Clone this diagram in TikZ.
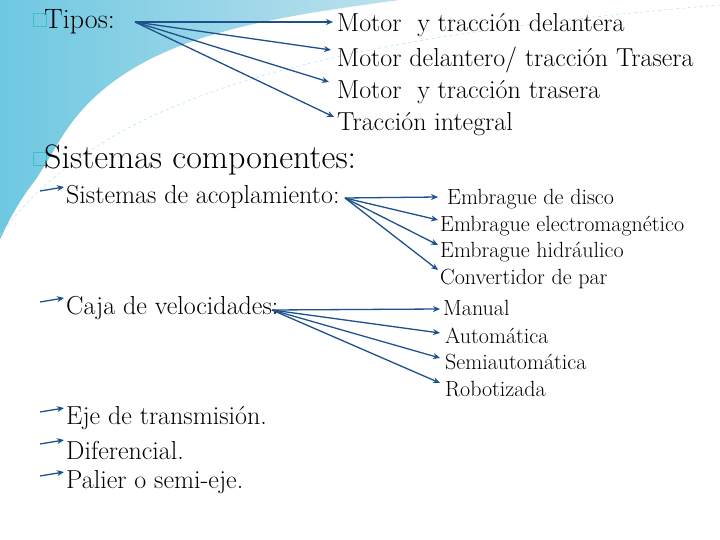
\documentclass[tikz,border=0pt]{standalone}
\usetikzlibrary{arrows.meta}
\begin{document}
\begin{tikzpicture}[x=1pt,y=-1pt,
  arr/.style={draw={rgb,255:red,30;green,80;blue,140}, line width=1.3pt, -{Stealth[length=7pt,width=6pt]}},
  lbl/.style={anchor=west, inner sep=0pt, font=\fontsize{26}{28}\selectfont},
  sml/.style={anchor=west, inner sep=0pt, font=\fontsize{22}{24}\selectfont},
  bul/.style={draw={rgb,255:red,60;green,190;blue,210}, line width=0.8pt, minimum size=13pt, inner sep=0pt}]
\useasboundingbox (0,0) rectangle (720,540);
\fill[white] (0,0) rectangle (720,540);
\shade[left color={rgb,255:red,110;green,200;blue,225}, right color={rgb,255:red,190;green,225;blue,238}]
  (0,0) -- (400,0) .. controls (250,20) and (120,40) .. (60,140) .. controls (30,190) and (10,220) .. (0,240) -- cycle;
\fill[white] (0,240) .. controls (40,150) and (120,70) .. (400,0) -- (440,0) .. controls (200,40) and (80,110) .. (0,250) -- cycle;
\draw[cyan!40, dashed] (0,235) .. controls (100,100) and (300,40) .. (720,5);
\node[bul] (b1) at (40,20) {};
\node[lbl, font=\fontsize{28}{30}\selectfont] (tipos) at (44,22) {Tipos:};
\node[lbl] (t1) at (337,25) {Motor \ y tracción delantera};
\node[lbl] (t2) at (337,60) {Motor delantero/ tracción Trasera};
\node[lbl] (t3) at (337,92) {Motor \ y tracción trasera};
\node[lbl] (t4) at (337,124) {Tracción integral};
\coordinate (ts) at (135,22);
\draw[arr] (ts) -- (333,22);
\draw[arr] (ts) -- (331,50);
\draw[arr] (ts) -- (329,82);
\draw[arr] (ts) -- (334,117);
\node[bul] (b2) at (40,159) {};
\node[lbl, font=\fontsize{34}{36}\selectfont] (sc) at (44,160) {Sistemas componentes:};
\node[lbl] (sa) at (66,197) {Sistemas de acoplamiento:};
\node[lbl] (cv) at (66,308) {Caja de velocidades:};
\node[lbl] (ej) at (66,418) {Eje de transmisión.};
\node[lbl] (df) at (66,450) {Diferencial.};
\node[lbl] (pa) at (66,482) {Palier o semi-eje.};
\foreach \y/\n in {197/a,308/b,418/c,450/d,482/e}{
  \coordinate (s\n) at (40,\y-6);
  \draw[arr] (s\n) -- (64,\y-10);
}
\node[sml] (e1) at (447,199) {Embrague de disco};
\node[sml] (e2) at (440,226) {Embrague electromagnético};
\node[sml] (e3) at (440,252) {Embrague hidráulico};
\node[sml] (e4) at (440,279) {Convertidor de par};
\node[sml] (m1) at (443,308) {Manual};
\node[sml] (m2) at (445,336) {Automática};
\node[sml] (m3) at (445,362) {Semiautomática};
\node[sml] (m4) at (445,389) {Robotizada};
\coordinate (ss) at (345,198);
\draw[arr] (ss) -- (438,197);
\draw[arr] (ss) -- (438,220);
\draw[arr] (ss) -- (438,245);
\draw[arr] (ss) -- (438,270);
\coordinate (cs) at (272,310);
\draw[arr] (cs) -- (440,309);
\draw[arr] (cs) -- (440,333);
\draw[arr] (cs) -- (440,358);
\draw[arr] (cs) -- (440,383);
\end{tikzpicture}
\end{document}
